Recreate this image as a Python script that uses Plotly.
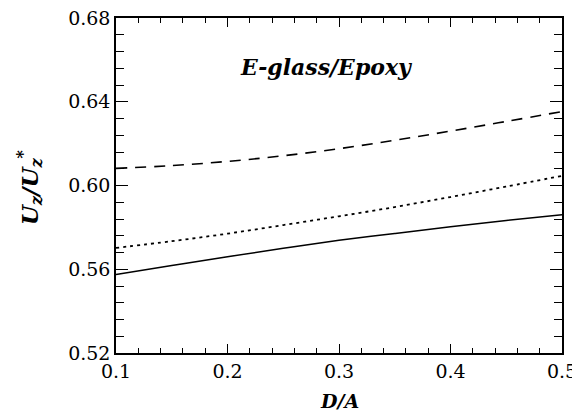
import plotly.graph_objects as go

x_vals = [0.10, 0.15, 0.20, 0.25, 0.30, 0.35, 0.40, 0.45, 0.50]
solid_vals = [0.5575, 0.5618, 0.5660, 0.5700, 0.5738, 0.5771, 0.5803, 0.5833, 0.5860]
dotted_vals = [0.5702, 0.5734, 0.5770, 0.5811, 0.5853, 0.5897, 0.5945, 0.5995, 0.6046]
dashed_vals = [0.6082, 0.6095, 0.6115, 0.6142, 0.6176, 0.6216, 0.6260, 0.6306, 0.6353]

x_ticks = [0.1, 0.2, 0.3, 0.4, 0.5]
x_ticklabels = ["0.1", "0.2", "0.3", "0.4", "0.5"]
y_ticks = [0.52, 0.56, 0.60, 0.64, 0.68]
y_ticklabels = ["0.52", "0.56", "0.60", "0.64", "0.68"]

FONT = "DejaVu Serif"

fig = go.Figure()
fig.add_trace(go.Scatter(x=x_vals, y=solid_vals, mode="lines",
                         line=dict(color="black", width=1.5, shape="spline"),
                         showlegend=False))
fig.add_trace(go.Scatter(x=x_vals, y=dotted_vals, mode="lines",
                         line=dict(color="black", width=1.8, dash="3px,4px", shape="spline"),
                         showlegend=False))
fig.add_trace(go.Scatter(x=x_vals, y=dashed_vals, mode="lines",
                         line=dict(color="black", width=1.6, dash="11px,8px", shape="spline"),
                         showlegend=False))

fig.add_annotation(x=0.289, y=0.6568, xref="x", yref="y",
                   text="<b><i>E-glass/Epoxy</i></b>", showarrow=False,
                   font=dict(family=FONT, size=22, color="black"))

# page has an 8px body offset; margins compensate so the plot area lands at 116..562 x 18..353
fig.update_layout(
    width=580, height=414,
    margin=dict(l=108, r=26, t=10, b=69, autoexpand=False),
    paper_bgcolor="white", plot_bgcolor="white",
    font=dict(family=FONT, size=19, color="black"),
)
fig.add_annotation(x=0.5, y=-0.143, xref="paper", yref="paper",
                   text="<b><i>D/A</i></b>", showarrow=False,
                   xanchor="center", yanchor="middle",
                   font=dict(family=FONT, size=19, color="black"))
fig.add_annotation(x=-0.195, y=0.495, xref="paper", yref="paper",
                   text="<b><i>U<sub>z</sub>/U<sub>z</sub><sup>*</sup></i></b>", showarrow=False,
                   textangle=-90, xanchor="center", yanchor="middle",
                   font=dict(family=FONT, size=23, color="black"))

fig.update_xaxes(
    range=[0.1, 0.5], tickvals=x_ticks, ticktext=x_ticklabels, automargin=False,
    ticklabeloverflow="allow",
    showgrid=False, zeroline=False, showline=True, linecolor="black", linewidth=1.5,
    mirror="ticks", ticks="inside", ticklen=9, tickwidth=1.2, tickcolor="black",
    minor=dict(dtick=0.02, tick0=0.1, ticks="inside", ticklen=5, tickwidth=1.2, tickcolor="black"),
    tickfont=dict(family=FONT, size=19),
)
fig.update_yaxes(
    range=[0.52, 0.68], tickvals=y_ticks, ticktext=y_ticklabels, automargin=False,
    ticklabeloverflow="allow",
    showgrid=False, zeroline=False, showline=True, linecolor="black", linewidth=1.5,
    mirror="ticks", ticks="inside", ticklen=12, tickwidth=1.2, tickcolor="black",
    minor=dict(dtick=0.008, tick0=0.52, ticks="inside", ticklen=8, tickwidth=1.2, tickcolor="black"),
    tickfont=dict(family=FONT, size=19),
)

fig.write_html("out.html")
